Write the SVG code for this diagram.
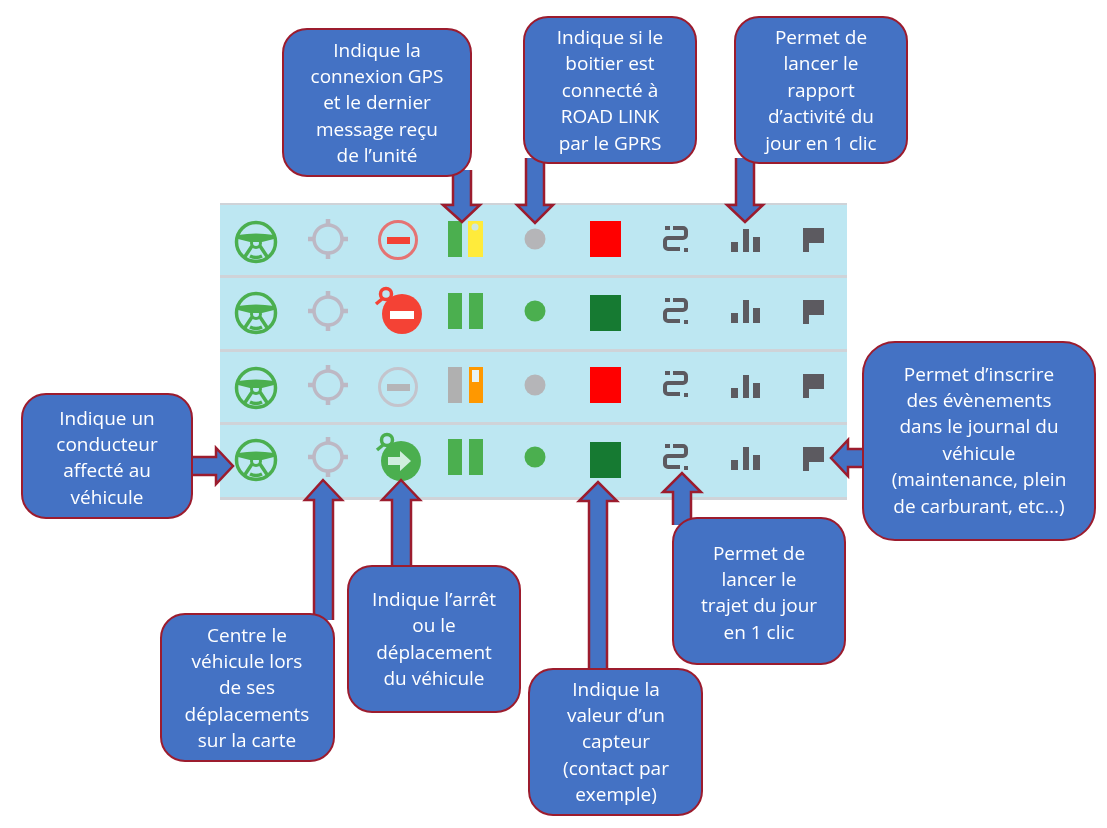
<svg xmlns="http://www.w3.org/2000/svg" xmlns:xlink="http://www.w3.org/1999/xlink" width="1107" height="828" viewBox="0 0 1107 828">
<style>
.box{fill:#4472c4;stroke:#9c1c2e;stroke-width:2}
.arr{fill:#4472c4;stroke:#9c1c2e;stroke-width:2.5;stroke-linejoin:miter}
text{font-family:"Open Sans","Liberation Sans",sans-serif;font-size:19px;fill:#fff;text-anchor:middle}
.sep{fill:#cfd3d8}
.g{fill:#4caf50}.gs{fill:none;stroke:#4caf50}
.t{fill:none;stroke:#bdb8c4;stroke-width:3.5}
.d{fill:#5c5a60}
</style>
<defs>
<filter id="soft" x="-5%" y="-5%" width="110%" height="110%"><feGaussianBlur stdDeviation="0.5"/></filter>
<g id="wheel">
<circle r="19.5" fill="none" stroke="#4caf50" stroke-width="3.5"/>
<path d="M-18-7Q0-10 18-7V-3L6 0H-6L-18-3Z" fill="#4caf50"/>
<path d="M-4 4L-12 16M4 4L12 16M-6 14Q0 17 6 14" fill="none" stroke="#4caf50" stroke-width="3.5"/>
<circle cy="1" r="4.5" fill="none" stroke="#4caf50" stroke-width="3"/>
</g>
<g id="target">
<circle r="14" class="t"/>
<path d="M0-20V-14M0 14V20M-20 0H-14M14 0H20" stroke="#bdb8c4" stroke-width="4.5" fill="none"/>
</g>
<g id="link">
<path d="M-11-12h5M-3-12H7a3 3 0 0 1 3 3v4a3 3 0 0 1-3 3H-8a3 3 0 0 0-3 3v5a3 3 0 0 0 3 3H4" fill="none" stroke="#5c5a60" stroke-width="4"/>
<rect x="8" y="8" width="4" height="4" class="d"/>
</g>
<g id="chart">
<rect x="0" y="-10" width="7" height="10" class="d"/><rect x="12" y="-23" width="6" height="23" class="d"/><rect x="22" y="-15" width="7" height="15" class="d"/>
</g>
<path id="flag" class="d" d="M0 0H21V15H6V24H0Z"/>
</defs>
<g id="table">
<rect x="220" y="204" width="627" height="296" fill="#bde7f2"/>
<rect class="sep" x="220" y="203" width="627" height="2"/>
<rect class="sep" x="220" y="275" width="627" height="3"/>
<rect class="sep" x="220" y="349" width="627" height="3"/>
<rect class="sep" x="220" y="422" width="627" height="3"/>
<rect class="sep" x="220" y="497" width="627" height="3"/>
</g>
<g id="icons" filter="url(#soft)">
<use href="#wheel" x="256" y="242"/><use href="#wheel" x="256" y="313"/><use href="#wheel" x="256" y="388"/><use href="#wheel" x="256" y="460"/>
<use href="#target" x="328" y="239"/><use href="#target" x="328" y="311"/><use href="#target" x="328" y="385"/><use href="#target" x="328" y="457"/>
<circle cx="398" cy="240" r="18.5" fill="none" stroke="#e57373" stroke-width="3"/><rect x="387" y="237" width="23" height="7" fill="#f44336"/>
<circle cx="402" cy="314" r="20" fill="#f44336"/><rect x="390" y="311" width="24" height="8" fill="#fff"/><circle cx="386" cy="294" r="5.5" fill="none" stroke="#f44336" stroke-width="3.5"/><path d="M382 299L376 304" stroke="#f44336" stroke-width="3.5"/>
<circle cx="398" cy="387" r="18.5" fill="none" stroke="#c4c4cc" stroke-width="3"/><rect x="387" y="384" width="23" height="7" fill="#b5b5b8"/>
<circle cx="401" cy="461" r="20" class="g"/><path d="M388 457h12v-6l11 10-11 10v-6h-12z" fill="#cfeedd"/><circle cx="387" cy="440" r="5.5" fill="none" stroke="#4caf50" stroke-width="3.5"/><path d="M383 445L377 450" stroke="#4caf50" stroke-width="3.5"/>
<rect x="448" y="221" width="14" height="36" class="g"/><rect x="468" y="221" width="15" height="36" fill="#ffeb3b"/><circle cx="475" cy="227" r="3.5" fill="#cfe8e0"/>
<rect x="448" y="293" width="14" height="36" class="g"/><rect x="469" y="293" width="14" height="36" class="g"/>
<rect x="448" y="367" width="14" height="36" fill="#b0b0b0"/><rect x="469" y="367" width="14" height="36" fill="#ff9800"/><rect x="472" y="370" width="7" height="12" fill="#e8f4f4"/>
<rect x="448" y="439" width="14" height="36" class="g"/><rect x="469" y="439" width="14" height="36" class="g"/>
<circle cx="535" cy="239" r="10.5" fill="#b5b5b8"/><circle cx="535" cy="311" r="10.5" class="g"/><circle cx="535" cy="385" r="10.5" fill="#b5b5b8"/><circle cx="535" cy="457" r="10.5" class="g"/>
<rect x="590" y="221" width="31" height="36" fill="#ff0000"/><rect x="590" y="295" width="31" height="36" fill="#137a30"/><rect x="590" y="367" width="31" height="36" fill="#ff0000"/><rect x="590" y="442" width="31" height="36" fill="#137a30"/>
<use href="#link" x="676" y="240"/><use href="#link" x="676" y="312"/><use href="#link" x="676" y="385"/><use href="#link" x="676" y="458"/>
<use href="#chart" x="731" y="252"/><use href="#chart" x="731" y="323"/><use href="#chart" x="731" y="398"/><use href="#chart" x="731" y="470"/>
<use href="#flag" x="803" y="228"/><use href="#flag" x="803" y="300"/><use href="#flag" x="803" y="374"/><use href="#flag" x="803" y="447"/>
</g>
<g id="connectors">
<path class="arr" d="M453 170V205H443L462 222L480 205H471V170"/>
<path class="arr" d="M526 158V205H517L535 223L553 205H544V158"/>
<path class="arr" d="M736 158V205H727L745 222L763 205H754V158"/>
<path class="arr" d="M188 457H216V448L233 466L216 484V475H188"/>
<path class="arr" d="M314 620V500H305L323 480L342 500H333V620"/>
<path class="arr" d="M392 572V500H382L401 480L420 500H411V572"/>
<path class="arr" d="M589 675V501H579L598 482L617 501H607V675"/>
<path class="arr" d="M673 525V492H663L682 473L701 492H691V525"/>
<path class="arr" d="M868 449H848V440L831 458L848 476V467H868"/>
</g>
<g id="n-gps"><rect class="box" x="283" y="29" width="188" height="147" rx="24"/><text x="377" y="57">Indique la</text><text x="377" y="83">connexion GPS</text><text x="377" y="109">et le dernier</text><text x="377" y="136">message reçu</text><text x="377" y="162">de l’unité</text></g>
<g id="n-gprs"><rect class="box" x="524" y="17" width="172" height="146" rx="24"/><text x="610" y="44">Indique si le</text><text x="610" y="70">boitier est</text><text x="610" y="97">connecté à</text><text x="610" y="123">ROAD LINK</text><text x="610" y="150">par le GPRS</text></g>
<g id="n-rapport"><rect class="box" x="735" y="17" width="172" height="146" rx="24"/><text x="821" y="44">Permet de</text><text x="821" y="70">lancer le</text><text x="821" y="97">rapport</text><text x="821" y="123">d’activité du</text><text x="821" y="150">jour en 1 clic</text></g>
<g id="n-conducteur"><rect class="box" x="22" y="394" width="170" height="124" rx="24"/><text x="107" y="425">Indique un</text><text x="107" y="451">conducteur</text><text x="107" y="477">affecté au</text><text x="107" y="504">véhicule</text></g>
<g id="n-centre"><rect class="box" x="161" y="614" width="173" height="147" rx="24"/><text x="247" y="642">Centre le</text><text x="247" y="668">véhicule lors</text><text x="247" y="694">de ses</text><text x="247" y="721">déplacements</text><text x="247" y="747">sur la carte</text></g>
<g id="n-arret"><rect class="box" x="348" y="566" width="172" height="146" rx="24"/><text x="434" y="606">Indique l’arrêt</text><text x="434" y="632">ou le</text><text x="434" y="659">déplacement</text><text x="434" y="685">du véhicule</text></g>
<g id="n-capteur"><rect class="box" x="529" y="669" width="173" height="146" rx="24"/><text x="616" y="696">Indique la</text><text x="616" y="722">valeur d’un</text><text x="616" y="748">capteur</text><text x="616" y="775">(contact par</text><text x="616" y="801">exemple)</text></g>
<g id="n-trajet"><rect class="box" x="673" y="518" width="172" height="146" rx="24"/><text x="759" y="560">Permet de</text><text x="759" y="586">lancer le</text><text x="759" y="612">trajet du jour</text><text x="759" y="639">en 1 clic</text></g>
<g id="n-journal"><rect class="box" x="863" y="342" width="232" height="198" rx="32"/><text x="979" y="381">Permet d’inscrire</text><text x="979" y="407">des évènements</text><text x="979" y="433">dans le journal du</text><text x="979" y="460">véhicule</text><text x="979" y="486">(maintenance, plein</text><text x="979" y="513">de carburant, etc…)</text></g>
</svg>
